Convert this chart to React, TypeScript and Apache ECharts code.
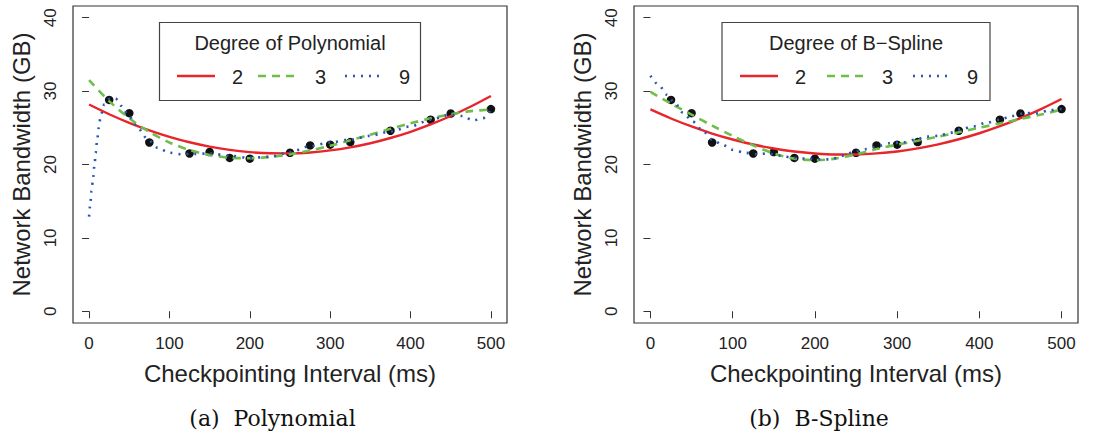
import React, { useEffect, useRef } from "react";
import * as echarts from "echarts";

// ---- data ----
const pointX = [25, 50, 75, 125, 150, 175, 200, 250, 275, 300, 325, 375, 425, 450, 500];
const pointY = [28.8, 27.0, 23.0, 21.5, 21.7, 20.9, 20.8, 21.6, 22.6, 22.7, 23.05, 24.6, 26.1, 26.95, 27.55];

const fitX = [0, 25, 50, 75, 100, 125, 150, 175, 200, 225, 250, 275, 300, 325, 350, 375, 400, 425, 450, 475, 500];

const polyDeg2 = [28.17, 26.85, 25.68, 24.65, 23.77, 23.03, 22.44, 21.99, 21.69, 21.53, 21.51, 21.64, 21.92, 22.34, 22.9, 23.61, 24.46, 25.46, 26.61, 27.9, 29.33];
const polyDeg3 = [31.5, 28.64, 26.3, 24.43, 23.0, 21.97, 21.29, 20.93, 20.85, 21.02, 21.38, 21.91, 22.56, 23.29, 24.07, 24.86, 25.61, 26.29, 26.85, 27.27, 27.5];
const polyDeg9X = [0, 1.5, 3, 5, 6.7, 8.3, 10, 12, 14.6, 19, 26, 33, 40, 50, 62, 73, 85, 100, 115, 130, 150, 175, 200, 225, 250, 275, 300, 325, 350, 375, 400, 425, 450, 465, 478, 490, 500];
const polyDeg9Y = [12.9, 14.6, 16.4, 18.1, 19.9, 21.6, 23.3, 25.0, 26.7, 28.2, 29.0, 29.0, 28.0, 26.5, 24.8, 23.4, 22.3, 21.6, 21.4, 21.45, 21.5, 21.2, 20.9, 21.05, 21.7, 22.5, 23.0, 23.4, 23.9, 24.5, 25.2, 26.1, 26.8, 26.6, 26.0, 26.3, 27.5];

const splineDeg2 = [27.5, 26.27, 25.18, 24.22, 23.41, 22.72, 22.18, 21.77, 21.5, 21.37, 21.37, 21.51, 21.78, 22.2, 22.75, 23.44, 24.26, 25.22, 26.32, 27.55, 28.92];
const splineDeg3 = [29.9, 28.3, 26.8, 25.3, 23.9, 22.6, 21.5, 20.8, 20.6, 20.8, 21.4, 22.1, 22.7, 23.25, 23.8, 24.4, 25.0, 25.6, 26.2, 26.8, 27.5];
const splineDeg9X = [0, 10.5, 20, 29.6, 40, 51, 63, 75, 87.6, 100, 115, 129, 143, 158, 174, 190, 206, 219, 234, 249, 263, 277, 291, 307, 323, 336, 350, 364, 378, 393, 409, 425, 439, 455, 470, 486, 500];
const splineDeg9Y = [32.1, 30.8, 29.5, 28.4, 27.0, 25.9, 24.7, 23.4, 22.7, 22.0, 21.6, 21.4, 21.5, 21.2, 20.9, 20.8, 20.7, 20.7, 21.2, 21.8, 22.1, 22.5, 22.9, 23.0, 23.4, 23.8, 23.9, 24.3, 24.8, 25.2, 25.7, 26.1, 26.6, 27.0, 27.0, 27.4, 27.6];

const xTicks = [0, 100, 200, 300, 400, 500];
const yTicks = [0, 10, 20, 30, 40];
const degreeNames = ["2", "3", "9"];
const xTitle = "Checkpointing Interval (ms)";
const yTitle = "Network Bandwidth (GB)";
const legendTitles = ["Degree of Polynomial", "Degree of B\u2212Spline"];
const captions = ["(a)  Polynomial", "(b)  B-Spline"];

const RED = "#E8252B";
const GREEN = "#6DBE4A";
const BLUE = "#2B55B3";
const INK = "#222";
const SANS = "Liberation Sans, Arial, sans-serif";
const SERIF = "DejaVu Serif, serif";

const zip = (xs: number[], ys: number[]) => xs.map((x, i) => [x, ys[i]]);

export default function App() {
  const ref = useRef<HTMLDivElement>(null);
  useEffect(() => {
    if (!ref.current) return;
    const chart = echarts.init(ref.current, null, { renderer: "svg" });

    const grids = [
      { left: 73, top: 6, width: 434, height: 317 },
      { left: 634, top: 6, width: 444, height: 317 },
    ];

    const xAxis = grids.map((_, i) => ({
      type: "value",
      gridIndex: i,
      min: -20,
      max: 520,
      axisLine: { show: false },
      splitLine: { show: false },
      axisTick: { show: true, customValues: xTicks, length: 7, lineStyle: { color: "#333", width: 1 } },
      axisLabel: { customValues: xTicks, fontSize: 17, color: INK, fontFamily: SANS, margin: 12 },
      name: xTitle,
      nameLocation: "middle",
      nameGap: 38,
      nameTextStyle: { fontSize: 24, color: INK, fontFamily: SANS },
    }));

    const yAxis = grids.map((_, i) => ({
      type: "value",
      gridIndex: i,
      min: -1.6,
      max: 41.6,
      axisLine: { show: false },
      splitLine: { show: false },
      axisTick: { show: true, customValues: yTicks, length: 7, lineStyle: { color: "#333", width: 1 } },
      axisLabel: { customValues: yTicks, fontSize: 17, color: INK, fontFamily: SANS, margin: 14, rotate: 90 },
      name: yTitle,
      nameLocation: "middle",
      nameGap: 40,
      nameTextStyle: { fontSize: 24, color: INK, fontFamily: SANS },
    }));

    const panels = [
      { d2: zip(fitX, polyDeg2), d3: zip(fitX, polyDeg3), d9: zip(polyDeg9X, polyDeg9Y) },
      { d2: zip(fitX, splineDeg2), d3: zip(fitX, splineDeg3), d9: zip(splineDeg9X, splineDeg9Y) },
    ];

    const series: any[] = [];
    panels.forEach((p, i) => {
      series.push({
        type: "scatter",
        xAxisIndex: i,
        yAxisIndex: i,
        data: zip(pointX, pointY),
        symbolSize: 8.5,
        itemStyle: { color: "#111", opacity: 1 },
        z: 2,
      });
      series.push({
        type: "line", name: degreeNames[0], xAxisIndex: i, yAxisIndex: i, data: p.d2,
        showSymbol: false, smooth: 0.3,
        lineStyle: { color: RED, width: 2.4 }, z: 3,
      });
      series.push({
        type: "line", name: degreeNames[1], xAxisIndex: i, yAxisIndex: i, data: p.d3,
        showSymbol: false, smooth: 0.3,
        lineStyle: { color: GREEN, width: 2.6, type: [8, 6] }, z: 3,
      });
      series.push({
        type: "line", name: degreeNames[2], xAxisIndex: i, yAxisIndex: i, data: p.d9,
        showSymbol: false, smooth: 0.3, smoothMonotone: "x",
        lineStyle: { color: BLUE, width: 2.6, type: [2, 6], cap: "butt" }, z: 3,
      });
    });

    // legend boxes (R-style) drawn with graphic
    const legendBoxes = [
      { x: 159.5, w: 261, title: 290, keys: [[177, 215, 237.5], [258, 298, 320.5], [345, 383, 404.5]] },
      { x: 722, w: 268, title: 856, keys: [[740, 778, 800.5], [827, 865, 887.5], [913, 952, 972.5]] },
    ];
    const styles = [
      { stroke: RED, lineWidth: 2.4 },
      { stroke: GREEN, lineWidth: 2.6, lineDash: [8, 6] },
      { stroke: BLUE, lineWidth: 2.6, lineDash: [2, 6] },
    ];
    const graphic: any[] = [];
    legendBoxes.forEach((b, i) => {
      graphic.push({
        type: "rect", shape: { x: b.x, y: 22.5, width: b.w, height: 78 },
        style: { fill: "#fff", stroke: "#444", lineWidth: 1.2 }, z: 10,
      });
      graphic.push({
        type: "text", x: b.title, y: 42.5,
        style: { text: legendTitles[i], fontSize: 20, fontFamily: SANS, fill: INK, textAlign: "center", textVerticalAlign: "middle" },
        z: 11,
      });
      b.keys.forEach((k, j) => {
        graphic.push({
          type: "line", shape: { x1: k[0], y1: 76, x2: k[1], y2: 76 },
          style: styles[j], z: 11,
        });
        graphic.push({
          type: "text", x: k[2], y: 77,
          style: { text: degreeNames[j], fontSize: 20, fontFamily: SANS, fill: INK, textAlign: "center", textVerticalAlign: "middle" },
          z: 11,
        });
      });
      graphic.push({
        type: "text", x: i === 0 ? 272.5 : 819, y: 418,
        style: { text: captions[i], fontSize: 22, fontFamily: SERIF, fill: "#111", textAlign: "center", textVerticalAlign: "middle" },
      });
    });

    chart.setOption({
      animation: false,
      backgroundColor: "#fff",
      grid: grids.map((g) => ({ ...g, show: true, borderColor: "#333", borderWidth: 1.2, backgroundColor: "transparent" })),
      xAxis,
      yAxis,
      series,
      graphic,
    });
    return () => chart.dispose();
  }, []);
  return (
    <div
      ref={ref}
      style={{ position: "fixed", left: 0, top: 0, width: 1106, height: 436, background: "#fff" }}
    />
  );
}
